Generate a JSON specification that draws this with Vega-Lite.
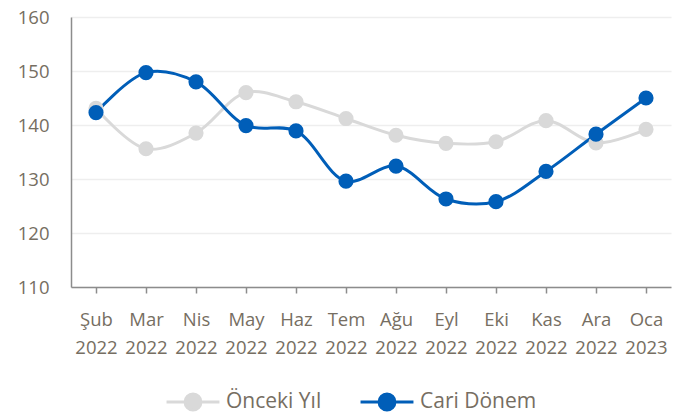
{
  "$schema": "https://vega.github.io/schema/vega-lite/v6.json",
  "width": 600,
  "height": 270,
  "autosize": "none",
  "padding": {"left": 71, "top": 17, "right": 23, "bottom": 129},
  "background": "white",
  "config": {
    "font": "Open Sans",
    "view": {"stroke": null}
  },
  "data": {
    "values": [
      {"ay": "Şub 2022", "seri": "Önceki Yıl", "deger": 143.1},
      {"ay": "Mar 2022", "seri": "Önceki Yıl", "deger": 135.6},
      {"ay": "Nis 2022", "seri": "Önceki Yıl", "deger": 138.5},
      {"ay": "May 2022", "seri": "Önceki Yıl", "deger": 146.0},
      {"ay": "Haz 2022", "seri": "Önceki Yıl", "deger": 144.3},
      {"ay": "Tem 2022", "seri": "Önceki Yıl", "deger": 141.2},
      {"ay": "Ağu 2022", "seri": "Önceki Yıl", "deger": 138.1},
      {"ay": "Eyl 2022", "seri": "Önceki Yıl", "deger": 136.6},
      {"ay": "Eki 2022", "seri": "Önceki Yıl", "deger": 136.9},
      {"ay": "Kas 2022", "seri": "Önceki Yıl", "deger": 140.8},
      {"ay": "Ara 2022", "seri": "Önceki Yıl", "deger": 136.7},
      {"ay": "Oca 2023", "seri": "Önceki Yıl", "deger": 139.2},
      {"ay": "Şub 2022", "seri": "Cari Dönem", "deger": 142.3},
      {"ay": "Mar 2022", "seri": "Cari Dönem", "deger": 149.7},
      {"ay": "Nis 2022", "seri": "Cari Dönem", "deger": 148.0},
      {"ay": "May 2022", "seri": "Cari Dönem", "deger": 139.9},
      {"ay": "Haz 2022", "seri": "Cari Dönem", "deger": 138.9},
      {"ay": "Tem 2022", "seri": "Cari Dönem", "deger": 129.6},
      {"ay": "Ağu 2022", "seri": "Cari Dönem", "deger": 132.4},
      {"ay": "Eyl 2022", "seri": "Cari Dönem", "deger": 126.3},
      {"ay": "Eki 2022", "seri": "Cari Dönem", "deger": 125.8},
      {"ay": "Kas 2022", "seri": "Cari Dönem", "deger": 131.4},
      {"ay": "Ara 2022", "seri": "Cari Dönem", "deger": 138.3},
      {"ay": "Oca 2023", "seri": "Cari Dönem", "deger": 145.0}
    ]
  },
  "encoding": {
    "x": {
      "field": "ay",
      "type": "ordinal",
      "sort": null,
      "scale": {"type": "point", "padding": 0.5},
      "axis": {
        "title": null,
        "labelAngle": 0,
        "labelExpr": "split(datum.label, ' ')",
        "labelFontSize": 18.5,
        "labelColor": "#766e62",
        "labelPadding": 17,
        "labelLineHeight": 28,
        "labelBaseline": "top",
        "domainColor": "#8c8c8c",
        "domainWidth": 1.5,
        "tickColor": "#8c8c8c",
        "tickSize": 6,
        "tickWidth": 1.5,
        "grid": false
      }
    },
    "y": {
      "field": "deger",
      "type": "quantitative",
      "scale": {"domain": [110, 160], "nice": false, "zero": false},
      "axis": {
        "title": null,
        "values": [110, 120, 130, 140, 150, 160],
        "labelFontSize": 18.5,
        "labelColor": "#766e62",
        "labelPadding": 22,
        "ticks": false,
        "domainColor": "#8c8c8c",
        "domainWidth": 1.5,
        "gridColor": "#eeeeee",
        "gridWidth": 1.5
      }
    },
    "color": {
      "field": "seri",
      "type": "nominal",
      "scale": {"domain": ["Önceki Yıl", "Cari Dönem"], "range": ["#d9d9d9", "#005eb8"]},
      "legend": {
        "title": null,
        "orient": "none",
        "direction": "horizontal",
        "legendX": 94,
        "legendY": 357,
        "symbolType": "M-1,0L1,0M0.3,0A0.3,0.3,0,1,1,-0.3,0A0.3,0.3,0,1,1,0.3,0Z",
        "symbolSize": 2800,
        "symbolStrokeWidth": 3,
        "labelFontSize": 21,
        "labelColor": "#766e62",
        "labelOffset": 5,
        "columnPadding": 32
      }
    }
  },
  "layer": [
    {
      "mark": {"type": "line", "interpolate": "catmull-rom", "strokeWidth": 3}
    },
    {
      "mark": {"type": "point", "filled": true, "size": 230, "opacity": 1}
    }
  ]
}
